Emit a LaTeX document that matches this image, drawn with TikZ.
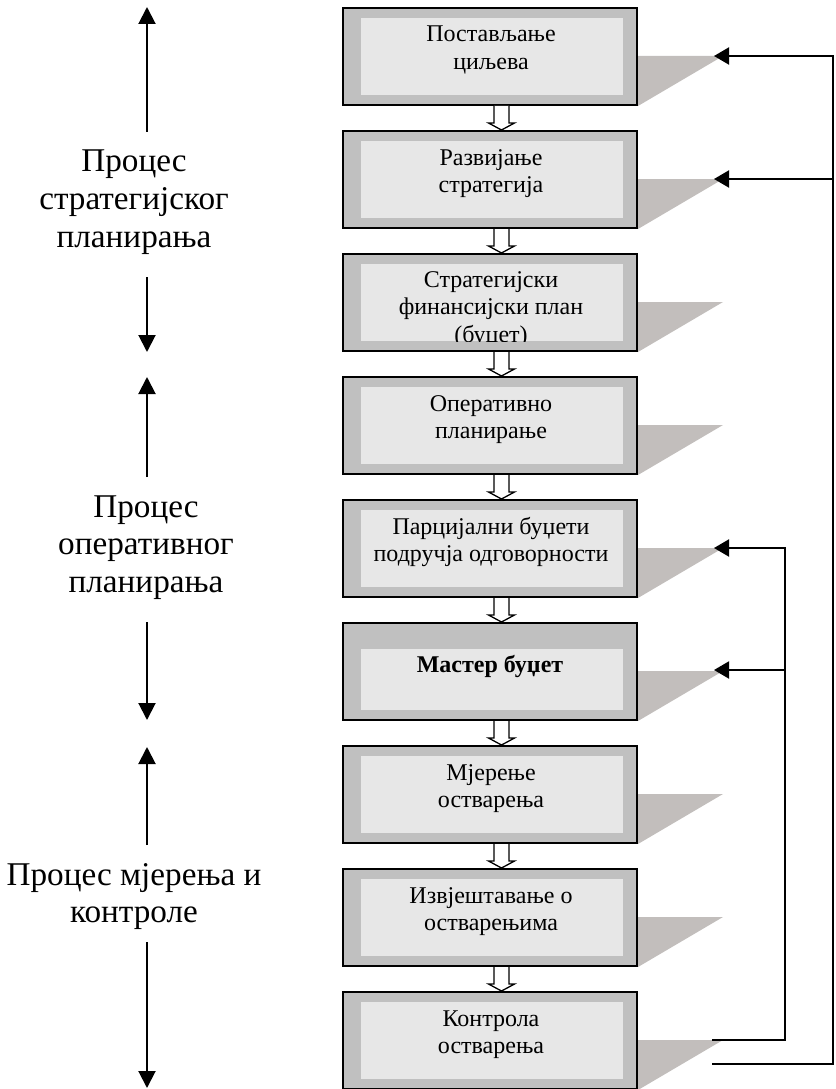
\documentclass[tikz,border=0pt]{standalone}
\usepackage{fontspec}
\setmainfont{Liberation Serif}
\usetikzlibrary{arrows.meta,calc,backgrounds}
\definecolor{outergray}{RGB}{192,192,192}
\definecolor{innergray}{RGB}{231,231,231}
\definecolor{shadowgray}{RGB}{194,190,188}
\newcommand\hollowarrow[2]{%
  \draw[hollow] let \p1=(#1.south), \p2=(#2.north) in
    (\x1+4pt,\y1) -- (\x1+4pt,\y2+7pt) -- (\x1-1.5pt,\y2+7pt) -- (\x1+11.5pt,\y2)
    -- (\x1+24.5pt,\y2+7pt) -- (\x1+19pt,\y2+7pt) -- (\x1+19pt,\y1);}
\newcommand\boxshadow[1]{%
  \fill[shadowgray] ($(#1.north east)+(0,49)$) -- ++(85,0) -- ($(#1.south east)+(0,0)$) -- cycle;}
\begin{document}
\begin{tikzpicture}[x=1pt,y=-1pt,
  outerbox/.style={draw=black, line width=2pt, fill=outergray, minimum width=294pt,
    minimum height=97pt, inner sep=0pt},
  innerbox/.style={fill=innergray, minimum width=262pt, minimum height=77pt, inner sep=0pt},
  boxtext/.style={anchor=base, inner sep=0pt, font=\fontsize{24}{28}\selectfont},
  sidetext/.style={anchor=base, inner sep=0pt, font=\fontsize{33.2}{38}\selectfont},
  hollow/.style={draw=black, fill=white, line width=1.3pt, line join=miter},
  fb/.style={draw=black, line width=2pt, line join=miter},
  fbarrow/.style={fb, -{Triangle[length=15pt,width=17pt]}},
  sidearrow/.style={draw=black, line width=2pt, -{Triangle[length=17pt,width=17pt]}}]
\useasboundingbox (0,0) rectangle (835,1089);

% boxes (outer)
\node[outerbox] (b1) at (490,56.5) {};
\node[outerbox] (b2) at (490,179.5) {};
\node[outerbox] (b3) at (490,302.5) {};
\node[outerbox] (b4) at (490,425.5) {};
\node[outerbox] (b5) at (490,548.5) {};
\node[outerbox] (b6) at (490,671.5) {};
\node[outerbox] (b7) at (490,794.5) {};
\node[outerbox] (b8) at (490,917.5) {};
\node[outerbox] (b9) at (490,1040.5) {};

% shadows
\begin{scope}[on background layer]
\boxshadow{b1}\boxshadow{b2}\boxshadow{b3}\boxshadow{b4}\boxshadow{b5}
\boxshadow{b6}\boxshadow{b7}\boxshadow{b8}\boxshadow{b9}
\end{scope}

% inner panels
\node[innerbox] (in1) at (492,56.5) {};
\node[innerbox] (in2) at (492,179.5) {};
\node[innerbox] (in3) at (492,302.5) {};
\node[innerbox] (in4) at (492,425.5) {};
\node[innerbox] (in5) at (492,548.5) {};
\node[innerbox, minimum height=61pt] (in6) at (492,679.5) {};
\node[innerbox] (in7) at (492,794.5) {};
\node[innerbox] (in8) at (492,917.5) {};
\node[innerbox] (in9) at (492,1040.5) {};

% box texts
\node[boxtext] (t1a) at (491,42) {Постављање};
\node[boxtext] (t1b) at (491,69.5) {циљева};
\node[boxtext] (t2a) at (491,165) {Развијање};
\node[boxtext] (t2b) at (491,192.5) {стратегија};
\begin{scope}
\clip (in3.north west) rectangle (in3.south east);
\node[boxtext] (t3a) at (491,287) {Стратегијски};
\node[boxtext] (t3b) at (491,314.5) {финансијски план};
\node[boxtext] (t3c) at (491,342) {(буџет)};
\end{scope}
\node[boxtext] (t4a) at (491,411) {Оперативно};
\node[boxtext] (t4b) at (491,438.5) {планирање};
\node[boxtext] (t5a) at (491,534) {Парцијални буџети};
\node[boxtext] (t5b) at (491,561.5) {подручја одговорности};
\node[boxtext, font=\fontsize{24}{28}\selectfont\bfseries] (t6a) at (490,672.5) {Мастер буџет};
\node[boxtext] (t7a) at (491,780) {Мјерење};
\node[boxtext] (t7b) at (491,807.5) {остварења};
\node[boxtext] (t8a) at (491,903) {Извјештавање о};
\node[boxtext] (t8b) at (491,930.5) {остварењима};
\node[boxtext] (t9a) at (491,1026) {Контрола};
\node[boxtext] (t9b) at (491,1053.5) {остварења};

% hollow arrows between boxes
\hollowarrow{b1}{b2}
\hollowarrow{b2}{b3}
\hollowarrow{b3}{b4}
\hollowarrow{b4}{b5}
\hollowarrow{b5}{b6}
\hollowarrow{b6}{b7}
\hollowarrow{b7}{b8}
\hollowarrow{b8}{b9}

% feedback loops
\coordinate (p1) at ($(b1.north east)+(76,49)$);
\coordinate (p2) at ($(b2.north east)+(76,49)$);
\coordinate (p5) at ($(b5.north east)+(76,49)$);
\coordinate (p6) at ($(b6.north east)+(76,48)$);
\coordinate (o9) at ($(b9.north east)+(74,73)$);
\coordinate (i9) at ($(b9.north east)+(74,49)$);
\coordinate (ro) at (833,1064);
\coordinate (ri) at (785,1040);
\draw[fbarrow] (o9) -- (ro) |- (p1);
\draw[fbarrow] (ro |- p2) -- (p2);
\draw[fbarrow] (i9) -- (ri) |- (p5);
\draw[fbarrow] (ri |- p6) -- (p6);

% side labels
\node[sidetext] (s1a) at (134,171) {Процес};
\node[sidetext] (s1b) at (134,209) {стратегијског};
\node[sidetext] (s1c) at (134,247) {планирања};
\node[sidetext] (s2a) at (146,517) {Процес};
\node[sidetext] (s2b) at (146,554.5) {оперативног};
\node[sidetext] (s2c) at (146,592) {планирања};
\node[sidetext] (s3a) at (134,885) {Процес мјерења и};
\node[sidetext] (s3b) at (134,922) {контроле};

% side arrows
\coordinate (a1s) at (147,132); \coordinate (a1e) at (147,7);
\coordinate (a2s) at (147,277); \coordinate (a2e) at (147,352);
\coordinate (a3s) at (147,477); \coordinate (a3e) at (147,377);
\coordinate (a4s) at (147,622); \coordinate (a4e) at (147,720);
\coordinate (a5s) at (147,845); \coordinate (a5e) at (147,747);
\coordinate (a6s) at (147,942); \coordinate (a6e) at (147,1088);
\draw[sidearrow] (a1s) -- (a1e);
\draw[sidearrow] (a2s) -- (a2e);
\draw[sidearrow] (a3s) -- (a3e);
\draw[sidearrow] (a4s) -- (a4e);
\draw[sidearrow] (a5s) -- (a5e);
\draw[sidearrow] (a6s) -- (a6e);
\end{tikzpicture}
\end{document}
